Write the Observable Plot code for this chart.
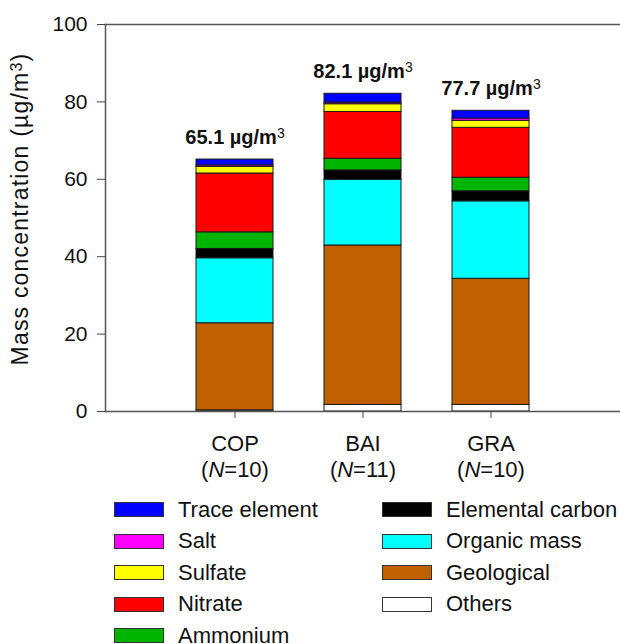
<!DOCTYPE html>
<html>
<head>
<meta charset="utf-8">
<script src="https://cdn.jsdelivr.net/npm/d3@7"></script>
<script src="https://cdn.jsdelivr.net/npm/@observablehq/plot@0.6"></script>
<style>
  html, body { margin: 0; padding: 0; background: #fff; overflow: hidden; }
  #wrap { position: relative; width: 620px; height: 644px; overflow: hidden; font-family: "Liberation Sans", Arial, sans-serif; }
  #chart svg { max-width: none !important; }
  #legend { position: absolute; left: 114px; top: 494px; display: grid; grid-auto-flow: column;
            grid-template-rows: repeat(5, 31.5px); grid-template-columns: 268px auto; }
  .item { display: flex; align-items: center; font-size: 22px; color: #111; white-space: nowrap; }
  .sw { width: 50px; height: 15px; box-sizing: border-box; border: 1.5px solid #333; margin-right: 14px; }
</style>
</head>
<body>
<div id="wrap"><div id="chart"></div><div id="legend"></div></div>
<script>
const sites = ["COP", "BAI", "GRA"];
const nSamples = [10, 11, 10];
const totals = [65.1, 82.1, 77.7];
const components = ["Others", "Geological", "Organic mass", "Elemental carbon", "Ammonium", "Nitrate", "Sulfate", "Salt", "Trace element"];
const colors = ["#FFFFFF", "#C06000", "#00FFFF", "#000000", "#00B400", "#FF0000", "#FFFF00", "#FF00FF", "#0000FF"];
const cop = [0.3, 22.5, 16.8, 2.4, 4.3, 15.2, 1.7, 0.4, 1.5];
const bai = [1.7, 41.2, 17.0, 2.4, 3.0, 12.1, 2.0, 0.4, 2.3];
const gra = [1.7, 32.6, 20.0, 2.6, 3.5, 12.9, 1.8, 0.6, 2.0];
const yTicks = [0, 20, 40, 60, 80, 100];

const series = [cop, bai, gra];
const rows = [];
sites.forEach((s, i) => components.forEach((c, j) => rows.push({site: s, component: c, value: series[i][j]})));
const totalRows = sites.map((s, i) => ({site: s, total: totals[i]}));
const nBySite = new Map(sites.map((s, i) => [s, nSamples[i]]));

const chart = Plot.plot({
  width: 660, height: 490,
  marginLeft: 105, marginRight: 0, marginTop: 24, marginBottom: 79,
  style: {fontFamily: '"Liberation Sans", Arial, sans-serif', color: "#111", background: "#fff", maxWidth: "none"},
  x: {domain: sites, range: [105, 621], paddingInner: 0.395, paddingOuter: 0.6977, align: 0.5},
  y: {domain: [0, 100]},
  color: {domain: components, range: colors},
  marks: [
    Plot.barY(rows, {x: "site", y: "value", fill: "component", order: components, stroke: "#1a1a1a", strokeWidth: 1}),
    Plot.text(totalRows, {x: "site", y: "total", text: d => `${d.total} µg/m³`, dy: -16, lineAnchor: "bottom",
      fontSize: 20, fontWeight: "bold", fill: "#111"}),
    Plot.frame({anchor: "top", stroke: "#555", strokeWidth: 1.5}),
    Plot.frame({anchor: "bottom", stroke: "#555", strokeWidth: 1.5}),
    Plot.frame({anchor: "left", stroke: "#555", strokeWidth: 1.5}),
    Plot.axisY({ticks: yTicks, tickSize: 8, tickPadding: 10, fontSize: 21, stroke: "#444",
      label: "Mass concentration (µg/m³)", labelAnchor: "center", labelOffset: 94, labelArrow: "none"}),
    Plot.axisX({tickSize: 7, tickPadding: 15, fontSize: 22, lineHeight: 1.15, stroke: "#444",
      tickFormat: d => `${d}\n(N=${nBySite.get(d)})`, label: null})
  ]
});
document.getElementById("chart").appendChild(chart);

const NS = "http://www.w3.org/2000/svg";
// italicize N in x tick labels; real superscript 3
chart.querySelectorAll("tspan, text").forEach(el => {
  if (el.children.length !== 0) return;
  const t = el.textContent;
  const m = /^\(N=(\d+)\)$/.exec(t);
  if (m) {
    el.textContent = "(";
    const it = document.createElementNS(NS, "tspan");
    it.setAttribute("font-style", "italic");
    it.textContent = "N";
    el.appendChild(it);
    el.appendChild(document.createTextNode("=" + m[1] + ")"));
  } else if (t.includes("³")) {
    const [a, b] = t.split("³");
    el.textContent = a;
    const sup = document.createElementNS(NS, "tspan");
    sup.setAttribute("baseline-shift", "40%");
    sup.setAttribute("font-size", "70%");
    sup.setAttribute("font-weight", "normal");
    sup.textContent = "3";
    el.appendChild(sup);
    if (b) el.appendChild(document.createTextNode(b));
  }
});
// y-axis label styling and slight upward shift
chart.querySelectorAll('g[aria-label="y-axis label"]').forEach(g => {
  const tr = g.getAttribute("transform") || "";
  g.setAttribute("transform", tr + " translate(0,-9)");
  g.querySelectorAll("text").forEach(el => { el.setAttribute("font-size", 23); el.setAttribute("letter-spacing", "1.2px"); });
});

const legend = document.getElementById("legend");
[...components].reverse().forEach((c) => {
  const item = document.createElement("div");
  item.className = "item";
  const sw = document.createElement("div");
  sw.className = "sw";
  sw.style.background = colors[components.indexOf(c)];
  item.appendChild(sw);
  item.appendChild(document.createTextNode(c));
  legend.appendChild(item);
});
</script>
</body>
</html>
